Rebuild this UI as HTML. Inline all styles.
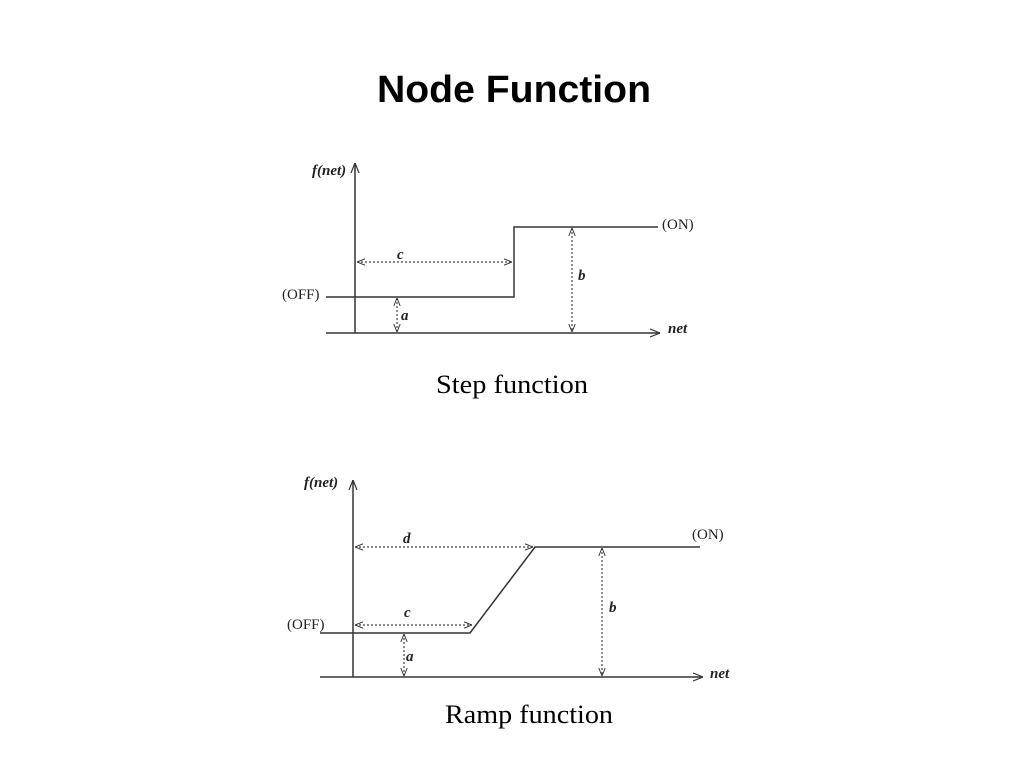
<!DOCTYPE html>
<html><head><meta charset="utf-8"><style>body{margin:0;background:#fff}svg{display:block}</style></head>
<body>
<svg width="1024" height="768" viewBox="0 0 1024 768" xmlns="http://www.w3.org/2000/svg">
<defs>
<marker id="ah" viewBox="0 0 10 10" refX="10" refY="5" markerWidth="10" markerHeight="10" markerUnits="userSpaceOnUse" orient="auto-start-reverse"><path d="M0,1 L10,5 L0,9" fill="none" stroke="#333" stroke-width="1.2"/></marker>
<marker id="sa" viewBox="0 0 10 10" refX="10" refY="5" markerWidth="8" markerHeight="8" markerUnits="userSpaceOnUse" orient="auto-start-reverse"><path d="M0,1 L10,5 L0,9" fill="none" stroke="#333" stroke-width="1.2"/></marker>
</defs>
<text x="514" y="102" text-anchor="middle" font-family="Liberation Sans, sans-serif" font-weight="bold" font-size="38" textLength="274" lengthAdjust="spacingAndGlyphs">Node Function</text>

<g stroke="#333" stroke-width="1.5" fill="none">
<line x1="355" y1="333" x2="355" y2="163" marker-end="url(#ah)"/>
<line x1="326" y1="333" x2="660" y2="333" marker-end="url(#ah)"/>
<polyline points="326,297 514,297 514,227 658,227"/>
</g>
<g stroke="#444" stroke-width="1.2" fill="none" stroke-dasharray="2,2">
<line x1="357" y1="262" x2="512" y2="262" marker-start="url(#sa)" marker-end="url(#sa)"/>
<line x1="397" y1="298" x2="397" y2="332" marker-start="url(#sa)" marker-end="url(#sa)"/>
<line x1="572" y1="228" x2="572" y2="332" marker-start="url(#sa)" marker-end="url(#sa)"/>
</g>
<g font-family="Liberation Serif, serif" font-size="15" fill="#222">
<text x="312" y="175" font-weight="bold" font-style="italic">f(net)</text>
<text x="662" y="229">(ON)</text>
<text x="282" y="299">(OFF)</text>
<text x="668" y="333" font-weight="bold" font-style="italic">net</text>
<text x="397" y="259" font-weight="bold" font-style="italic">c</text>
<text x="401" y="320" font-weight="bold" font-style="italic">a</text>
<text x="578" y="280" font-weight="bold" font-style="italic">b</text>
</g>
<text x="436" y="393" font-family="Liberation Serif, serif" font-size="26" textLength="152" lengthAdjust="spacingAndGlyphs">Step function</text>

<g stroke="#333" stroke-width="1.5" fill="none">
<line x1="353" y1="677" x2="353" y2="480" marker-end="url(#ah)"/>
<line x1="320" y1="677" x2="703" y2="677" marker-end="url(#ah)"/>
<polyline points="320,633 470,633 535,547 700,547"/>
</g>
<g stroke="#444" stroke-width="1.2" fill="none" stroke-dasharray="2,2">
<line x1="355" y1="547" x2="533" y2="547" marker-start="url(#sa)" marker-end="url(#sa)"/>
<line x1="355" y1="625" x2="472" y2="625" marker-start="url(#sa)" marker-end="url(#sa)"/>
<line x1="404" y1="634" x2="404" y2="676" marker-start="url(#sa)" marker-end="url(#sa)"/>
<line x1="602" y1="548" x2="602" y2="676" marker-start="url(#sa)" marker-end="url(#sa)"/>
</g>
<g font-family="Liberation Serif, serif" font-size="15" fill="#222">
<text x="304" y="487" font-weight="bold" font-style="italic">f(net)</text>
<text x="692" y="539">(ON)</text>
<text x="287" y="629">(OFF)</text>
<text x="710" y="678" font-weight="bold" font-style="italic">net</text>
<text x="403" y="543" font-weight="bold" font-style="italic">d</text>
<text x="404" y="617" font-weight="bold" font-style="italic">c</text>
<text x="406" y="661" font-weight="bold" font-style="italic">a</text>
<text x="609" y="612" font-weight="bold" font-style="italic">b</text>
</g>
<text x="445" y="723" font-family="Liberation Serif, serif" font-size="26" textLength="168" lengthAdjust="spacingAndGlyphs">Ramp function</text>
</svg>
</body></html>
